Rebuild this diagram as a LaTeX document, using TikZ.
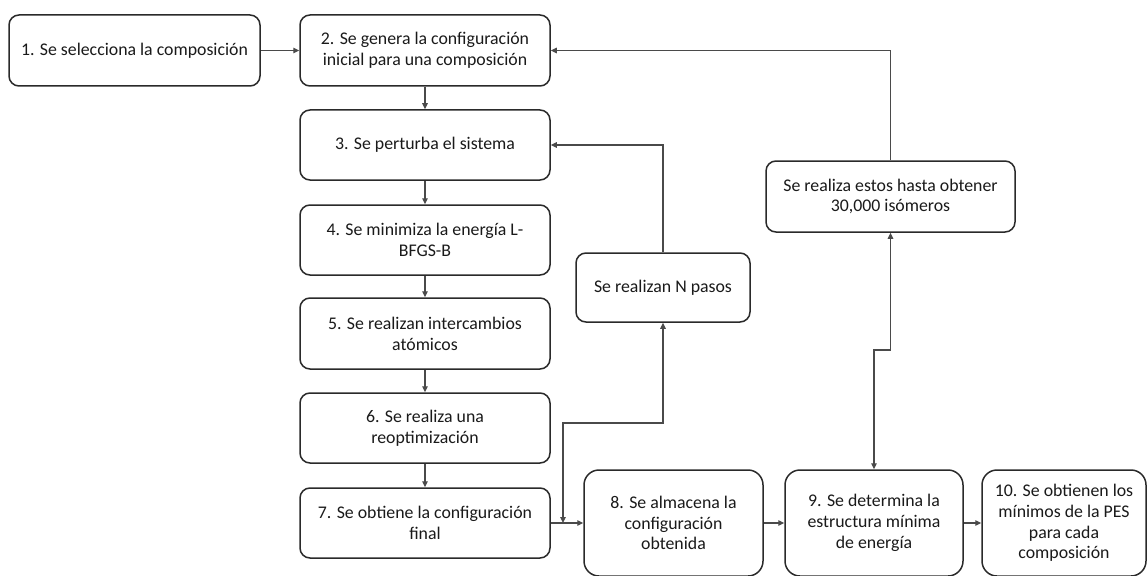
\documentclass[tikz,border=0pt]{standalone}
\usepackage{fontspec}
\setmainfont{Carlito}
\usetikzlibrary{arrows.meta}
\definecolor{boxc}{HTML}{2A2A2A}
\definecolor{linec}{HTML}{4A4A4A}
\definecolor{txtc}{HTML}{1A1A1A}
\tikzset{
  stepbox/.style={draw=boxc, line width=1.5pt, rounded corners=10pt, align=center,
    inner sep=0pt, text=txtc, font=\fontsize{17.8}{20.8}\selectfont},
  bigbox/.style={stepbox, rounded corners=15pt},
  conn/.style={draw=linec, line width=1.3pt, -{Triangle[length=6pt,width=5.5pt]}},
  conn2/.style={draw=linec, line width=1.3pt, {Triangle[length=6pt,width=5.5pt]}-{Triangle[length=6pt,width=5.5pt]}}
}
\begin{document}
\begin{tikzpicture}[x=1pt,y=-1pt]
\useasboundingbox (0,0) rectangle (1147,575);
\fill[white] (0,0) rectangle (1147,575);
\clip (0,0) rectangle (1147,575);
\node[stepbox, minimum width=251pt, minimum height=71pt] (b1) at (134.5,50.5) {1. Se selecciona la composición};
\node[stepbox, minimum width=250pt, minimum height=71pt] (b2) at (425,50.5) {2. Se genera la configuración\\inicial para una composición};
\node[stepbox, minimum width=250pt, minimum height=70pt] (b3) at (425,145) {3. Se perturba el sistema};
\node[stepbox, minimum width=250pt, minimum height=70pt] (b4) at (425,240) {4. Se minimiza la energía L-\\BFGS-B};
\node[stepbox, minimum width=250pt, minimum height=71pt] (b5) at (425,333.5) {5. Se realizan intercambios\\atómicos};
\node[stepbox, minimum width=250pt, minimum height=70pt] (b6) at (425,428) {6. Se realiza una\\reoptimización};
\node[stepbox, minimum width=250pt, minimum height=70pt] (b7) at (425,523) {7. Se obtiene la configuración\\final};
\node[stepbox, minimum width=174pt, minimum height=69pt] (np) at (663,287.5) {Se realizan N pasos};
\node[stepbox, minimum width=249pt, minimum height=71pt] (rz) at (890.5,196.5) {Se realiza estos hasta obtener\\30,000 isómeros};
\node[bigbox, minimum width=179pt, minimum height=106pt] (b8) at (673.5,523) {8. Se almacena la\\configuración\\obtenida};
\node[bigbox, minimum width=178pt, minimum height=106pt] (b9) at (874,523) {9. Se determina la\\estructura mínima\\de energía};
\node[bigbox, minimum width=164pt, minimum height=106pt] (b10) at (1064,523) {10. Se obtienen los\\mínimos de la PES\\para cada\\composición};
\coordinate (j) at (563,523);
\coordinate (k) at (874,350);
\draw[conn] (b1) -- (b2);
\draw[conn] (rz.north) |- (b2.east);
\draw[conn] (b2) -- (b3);
\draw[conn] (b3) -- (b4);
\draw[conn] (b4) -- (b5);
\draw[conn] (b5) -- (b6);
\draw[conn] (b6) -- (b7);
\draw[conn] (np.north) |- (b3.east);
\draw[conn] (b7) -- (b8);
\draw[conn] (b8) -- (b9);
\draw[conn] (b9) -- (b10);
\draw[conn2] (j) -- (563,423) -| (np.south);
\draw[conn2] (b9.north) -- (k) -| (rz.south);
\end{tikzpicture}
\end{document}
